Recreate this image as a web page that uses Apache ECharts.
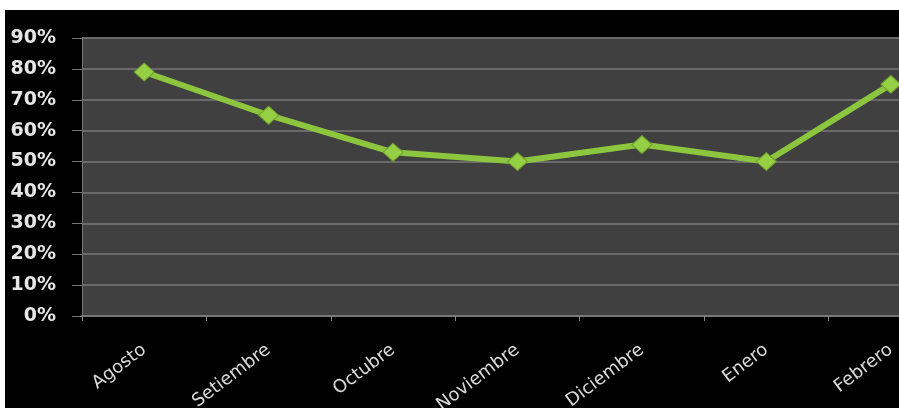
<!DOCTYPE html>
<html><head><meta charset="utf-8">
<script src="https://cdn.jsdelivr.net/npm/echarts@6/dist/echarts.min.js"></script>
<style>
html,body{margin:0;padding:0;background:#fff;width:899px;height:408px;overflow:hidden;position:relative}
#c{position:absolute;left:5px;top:10px;width:948px;height:398px;background:#000}
</style></head>
<body><div id="c"></div>
<script>
const categories = ['Agosto','Setiembre','Octubre','Noviembre','Diciembre','Enero','Febrero'];
const values = [79, 65, 53, 50, 55.5, 50, 75];
const yTicks = [0,10,20,30,40,50,60,70,80,90];

const chart = echarts.init(document.getElementById('c'), null, {renderer:'canvas'});
chart.setOption({
  backgroundColor:'#000',
  animation:false,
  grid:{left:77, top:28, right:0, bottom:92, backgroundColor:'#404040', show:true, borderWidth:0, outerBoundsMode:'none', containLabel:false},
  xAxis:{
    type:'category', data:categories, boundaryGap:true,
    axisLine:{show:true, lineStyle:{color:'#777', width:2}},
    axisTick:{show:true, length:5, lineStyle:{color:'#888'}},
    axisLabel:{rotate:37, margin:32, color:'#dadada', fontSize:18, fontFamily:'DejaVu Sans'},
    splitLine:{show:false}
  },
  yAxis:{
    type:'value', min:0, max:90, interval:10,
    axisLine:{show:true, lineStyle:{color:'#777'}},
    axisTick:{show:true, length:10, lineStyle:{color:'#777'}},
    axisLabel:{formatter: v => yTicks.includes(v) ? v + '%' : '', color:'#e6e6e6', fontSize:19, fontWeight:'bold', fontFamily:'DejaVu Sans', margin:26},
    splitLine:{show:true, lineStyle:{color:'#6a6a6a', width:2}}
  },
  series:[{
    type:'line', data:values,
    lineStyle:{color:'#8cc63f', width:6},
    itemStyle:{color:'#95cf44', borderColor:'#6f9e2c', borderWidth:1},
    symbol:'diamond', symbolSize:[20,18],
    z:5
  }]
});
</script></body></html>
